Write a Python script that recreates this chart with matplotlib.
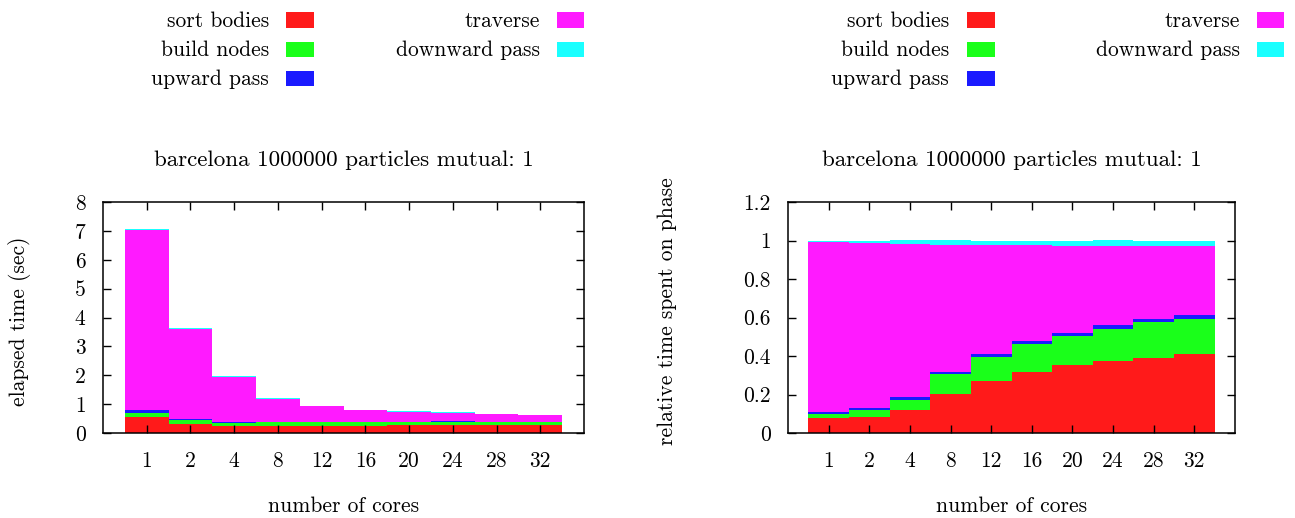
import numpy as np
import matplotlib
matplotlib.use('Agg')
from matplotlib import pyplot as plt
from matplotlib.patches import Rectangle
from matplotlib.ticker import FormatStrFormatter

plt.rcParams['font.family'] = 'cmr10'
plt.rcParams['mathtext.fontset'] = 'cm'
plt.rcParams['axes.formatter.use_mathtext'] = True
plt.rcParams['font.size'] = 15.5

cores = ['1', '2', '4', '8', '12', '16', '20', '24', '28', '32']

# elapsed time per phase (sec)
sort_bodies = [0.538, 0.309, 0.231, 0.246, 0.255, 0.257, 0.264, 0.269, 0.263, 0.262]
build_nodes = [0.149, 0.127, 0.106, 0.120, 0.121, 0.118, 0.115, 0.121, 0.123, 0.117]
upward_pass = [0.099, 0.044, 0.031, 0.017, 0.013, 0.014, 0.011, 0.013, 0.011, 0.012]
traverse = [6.230, 3.105, 1.560, 0.792, 0.538, 0.401, 0.340, 0.297, 0.255, 0.231]
downward_pass = [0.064, 0.055, 0.031, 0.025, 0.024, 0.020, 0.021, 0.020, 0.019, 0.018]

labels = ['sort bodies', 'build nodes', 'upward pass', 'traverse', 'downward pass']
colors = ['#ff1a1a', '#1aff1a', '#1a1aff', '#ff1aff', '#1affff']
title = 'barcelona 1000000 particles mutual: 1'

W, H = 1295, 518
fig = plt.figure(figsize=(W / 100, H / 100), dpi=100)

phases = np.array([sort_bodies, build_nodes, upward_pass, traverse, downward_pass])
total = phases.sum(axis=0)
relative = phases / total

def stacked(ax, data, ylim, yticks):
	x = np.arange(len(cores))
	bottom = np.zeros(len(cores))
	for vals, c in zip(data, colors):
		ax.bar(x, vals, width=1.0, bottom=bottom, color=c, linewidth=0)
		bottom = bottom + vals
	ax.set_xlim(-1, 10)
	ax.set_ylim(*ylim)
	ax.set_xticks(x)
	ax.set_xticklabels(cores)
	ax.set_yticks(yticks)
	ax.yaxis.set_major_formatter(FormatStrFormatter('%g'))
	ax.tick_params(direction='in', top=True, right=True, length=6, width=1)
	ax.tick_params(axis='x', pad=13)
	ax.tick_params(axis='y', pad=12.5)
	for s in ax.spines.values():
		s.set_linewidth(1.1)
	ax.text(0.5, (433 - 166) / 231, title, transform=ax.transAxes,
		ha='center', va='baseline', fontsize=16.6)
	ax.set_xlabel('number of cores', va='baseline')
	ax.xaxis.set_label_coords(0.5, (433 - 512) / 231)

def legend(x_text1, x_patch1, x_text2, x_patch2):
	rows = [20, 49.3, 78.5]
	pos = [(x_text1, x_patch1, rows[0]), (x_text1, x_patch1, rows[1]), (x_text1, x_patch1, rows[2]),
		(x_text2, x_patch2, rows[0]), (x_text2, x_patch2, rows[1])]
	for (xt, xp, yr), lab, c in zip(pos, labels, colors):
		fig.text(xt / W, 1 - (yr + 1) / H, lab, ha='right', va='center')
		fig.add_artist(Rectangle((xp / W, 1 - (yr + 7.5) / H), 27.5 / W, 15 / H,
			transform=fig.transFigure, color=c, linewidth=0))

ax1 = fig.add_axes([103 / W, (H - 433) / H, (584 - 103) / W, (433 - 202) / H])
stacked(ax1, phases, (0, 8), range(0, 9))
ax1.set_ylabel('elapsed time (sec)', va='center')
ax1.yaxis.set_label_coords((20 - 103) / 481, (433 - 321) / 231)

ax2 = fig.add_axes([788 / W, (H - 433) / H, (1235 - 788) / W, (433 - 202) / H])
stacked(ax2, relative, (0, 1.2), [0, 0.2, 0.4, 0.6, 0.8, 1.0, 1.2])
ax2.set_ylabel('relative time spent on phase', va='center')
ax2.yaxis.set_label_coords((667 - 788) / 447, (433 - 311) / 231)

legend(269, 286, 540, 556.5)
legend(949, 967, 1240, 1256.5)

fig.savefig('out.png', dpi=100)
